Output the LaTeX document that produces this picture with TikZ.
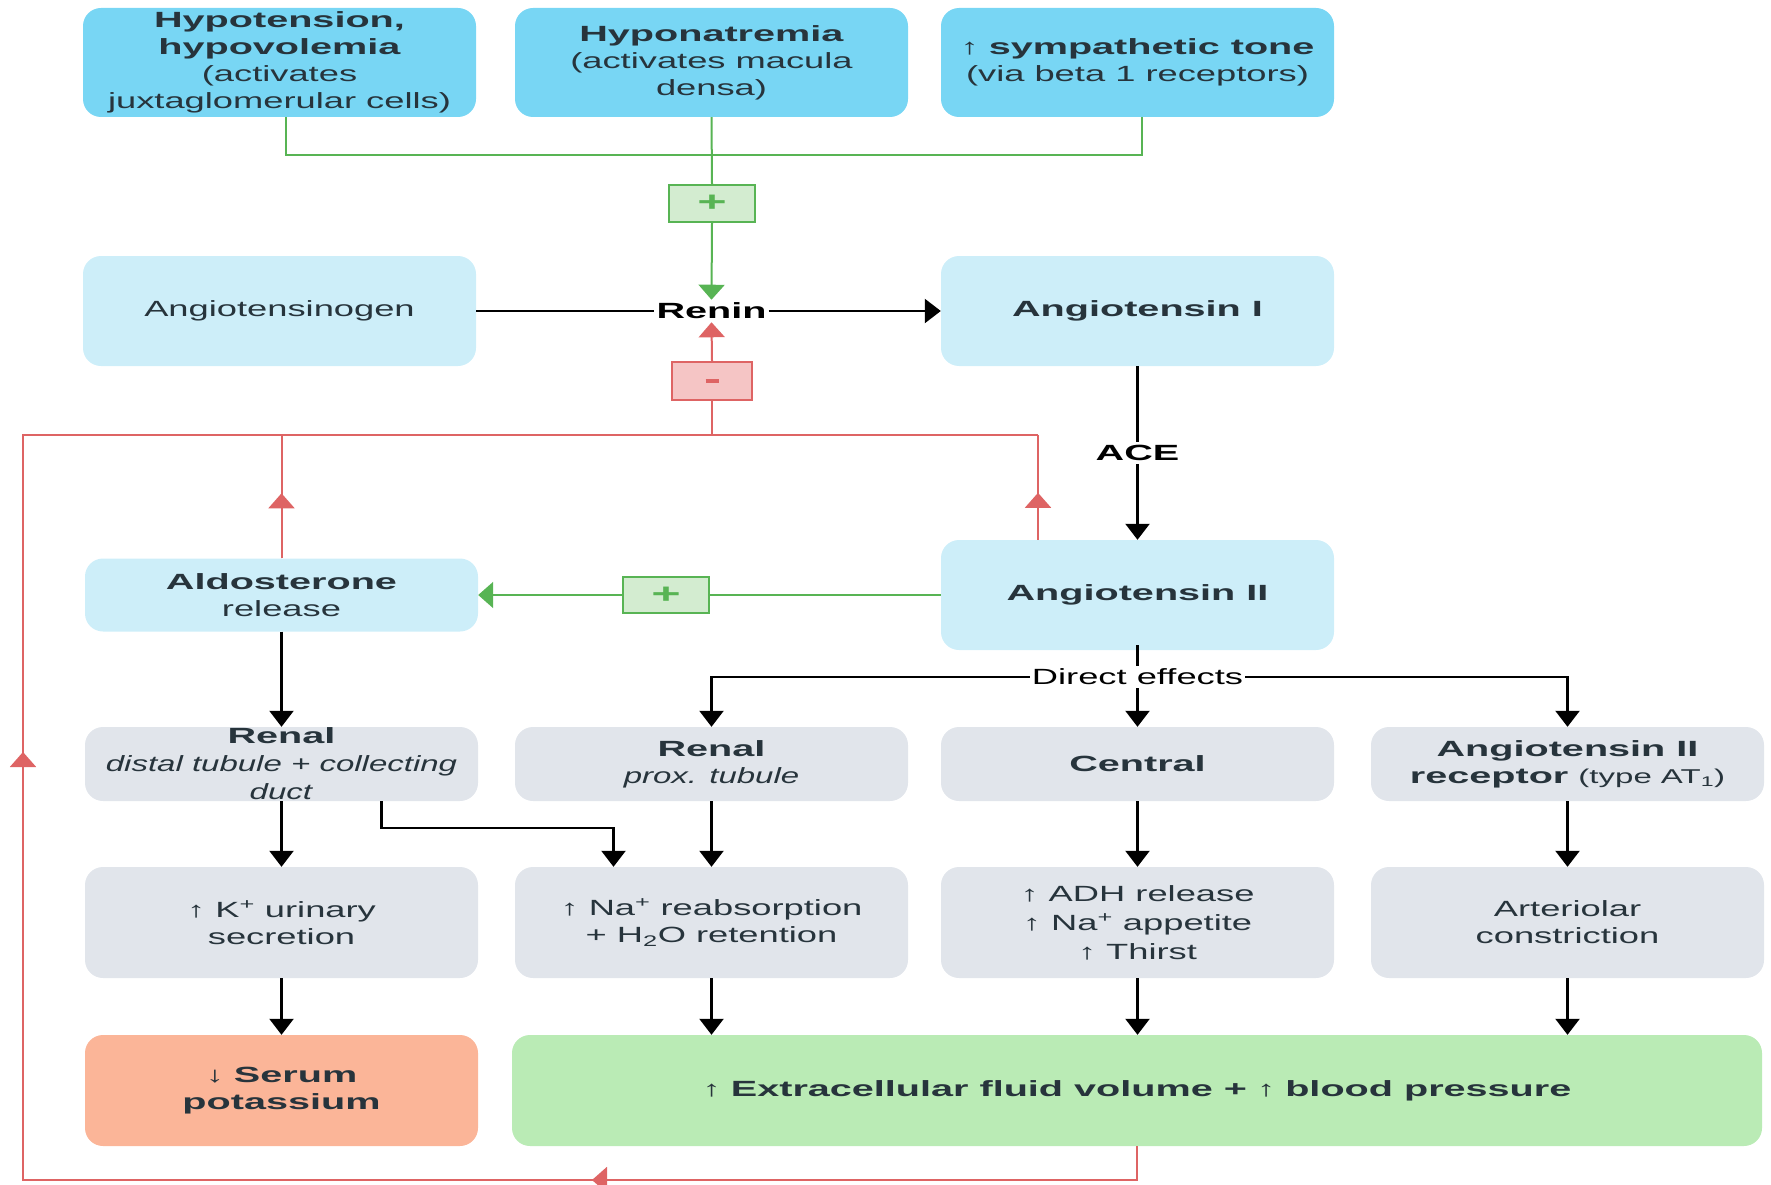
\documentclass[tikz,border=0pt]{standalone}
\usepackage{fontspec}
\setmainfont[FakeStretch=1.65, BoldFeatures={FakeStretch=1.8}, ItalicFeatures={FakeStretch=1.5}]{Liberation Sans}
\usetikzlibrary{arrows.meta}
\definecolor{topblue}{HTML}{78D6F4}
\definecolor{lblue}{HTML}{CDEEF9}
\definecolor{gbox}{HTML}{E1E5EB}
\definecolor{salmon}{HTML}{FBB598}
\definecolor{ecfgreen}{HTML}{BAEBB5}
\definecolor{txt}{HTML}{27343C}
\definecolor{gline}{HTML}{58B454}
\definecolor{gfill}{HTML}{D3ECD0}
\definecolor{rline}{HTML}{DE6464}
\definecolor{rfill}{HTML}{F5C5C5}
\begin{document}
\begin{tikzpicture}[x=1pt,y=-1pt,
  cbox/.style={rounded corners=18pt, minimum width=393pt, align=center, text=txt, inner sep=0pt, font=\fontsize{22}{27}\selectfont},
  topbox/.style={cbox, fill=topblue, minimum height=109pt},
  lbbox/.style={cbox, fill=lblue, minimum height=110pt},
  grbox/.style={cbox, fill=gbox, minimum height=74pt},
  effbox/.style={cbox, fill=gbox, minimum height=111pt},
  txtonly/.style={align=center, text=txt, inner sep=0pt, font=\fontsize{22}{28}\selectfont},
  lab/.style={fill=white, text=black, inner xsep=2pt, inner ysep=3pt, font=\fontsize{22}{27}\selectfont},
  blk/.style={draw=black, line width=2.3pt},
  barr/.style={blk, -{Triangle[width=24pt,length=16pt]}},
  gl/.style={draw=gline, line width=2pt},
  garr/.style={gl, -{Triangle[width=26pt,length=15pt]}},
  rl/.style={draw=rline, line width=2pt},
  rarr/.style={rl, -{Triangle[width=26pt,length=15pt]}},
  sign/.style={minimum width=86pt, minimum height=36pt, inner sep=0pt, line width=2pt, font=\fontsize{28}{28}\selectfont\bfseries},
  plusbox/.style={sign, draw=gline, fill=gfill, text=gline},
  minusbox/.style={sign, draw=rline, fill=rfill, text=rline, minimum width=80pt, minimum height=38pt}
]
\useasboundingbox (0,0) rectangle (1771,1185);

% top row
\node[topbox] (hypo) at (279.5,62.5) {\textbf{Hypotension,}\\\textbf{hypovolemia}\\(activates\\juxtaglomerular cells)};
\node[topbox] (hypon) at (711.5,62.5) {\textbf{Hyponatremia}\\(activates macula\\densa)};
\node[topbox] (symp) at (1137.5,62.5) {↑ \textbf{sympathetic tone}\\(via beta 1 receptors)};

% second row
\node[lbbox] (agen) at (279.5,311) {Angiotensinogen};
\node[lbbox] (ang1) at (1137.5,311) {\textbf{Angiotensin I}};
\node[lab, font=\fontsize{22}{27}\selectfont\bfseries] (renin) at (711.5,311) {Renin};

% signs
\node[plusbox] (plus1) at (712,203.5) {+};
\node[minusbox] (minus) at (712,381) {\rule{13pt}{4pt}};

% angiotensin II and aldosterone
\node[lbbox] (ang2) at (1137.5,595) {\textbf{Angiotensin II}};
\node[cbox, fill=lblue, minimum height=73pt] (aldo) at (281.5,595) {\textbf{Aldosterone}\\release};
\node[plusbox] (plus2) at (666,595) {+};
\node[lab, font=\fontsize{22}{27}\selectfont\bfseries] (ace) at (1137.5,453) {ACE};
\node[lab] (de) at (1137.5,677) {Direct effects};

% third row
\node[grbox] (rd) at (281.5,764) {};
\node[txtonly] (rdt) at (rd.center) {\textbf{Renal}\\\textit{distal tubule + collecting}\\\textit{duct}};
\node[grbox] (rp) at (711.5,764) {\textbf{Renal}\\\textit{prox. tubule}};
\node[grbox] (cen) at (1137.5,764) {\textbf{Central}};
\node[grbox] (at1) at (1567.5,764) {\textbf{Angiotensin II}\\\textbf{receptor} {\fontsize{20}{27}\selectfont(type AT\textsubscript{1})}};

% fourth row
\node[effbox] (kx) at (281.5,922.5) {↑ K\textsuperscript{+} urinary\\secretion};
\node[effbox] (na) at (711.5,922.5) {↑ Na\textsuperscript{+} reabsorption\\+ H\textsubscript{2}O retention};
\node[effbox, font=\fontsize{22}{29}\selectfont] (adh) at (1137.5,922.5) {↑ ADH release\\↑ Na\textsuperscript{+} appetite\\↑ Thirst};
\node[effbox] (art) at (1567.5,922.5) {Arteriolar\\constriction};

% fifth row
\node[cbox, fill=salmon, minimum height=111pt] (serum) at (281.5,1090.5) {↓ \textbf{Serum}\\\textbf{potassium}};
\node[cbox, fill=ecfgreen, minimum height=111pt, minimum width=1250pt] (ecf) at (1137,1090.5) {↑ \textbf{Extracellular fluid volume +} ↑ \textbf{blood pressure}};

% coordinates
\coordinate (gj) at (712,155);
\coordinate (rlft) at (23,435);
\coordinate (rrt) at (1038,435);
\coordinate (rbot) at (23,1180);

% green activation
\draw[gl] ([xshift=6pt]hypo.south) |- (gj) -| ([xshift=4pt]symp.south);
\draw[gl] (hypon.south) -- (plus1.north);
\draw[garr] (plus1.south) -- (renin.north);
\draw[gl] (ang2.west) -- (plus2.east);
\draw[garr] (plus2.west) -- (aldo.east);

% renin reaction
\draw[blk] (agen.east) -- (renin.west);
\draw[barr] (renin.east) -- (ang1.west);
\draw[blk] (ang1.south) -- (ace.north);
\draw[barr] (ace.south) -- (ang2.north);

% direct effects
\draw[blk] ([yshift=5pt]ang2.south) -- (de.north);
\draw[barr] (de.west) -| (rp.north);
\draw[barr] (de.east) -| (at1.north);
\draw[barr] (de.south) -- (cen.north);

% aldosterone path
\draw[barr] (aldo.south) -- (rd.north);
\draw[barr] (rd.south) -- (kx.north);
\draw[barr] ([xshift=100pt]rd.south) -- ++(0,27) -| ([xshift=-98pt]na.north);
\draw[barr] (rp.south) -- (na.north);
\draw[barr] (cen.south) -- (adh.north);
\draw[barr] (at1.south) -- (art.north);
\draw[barr] (kx.south) -- (serum.north);
\draw[barr] (na.south) -- (na.south |- ecf.north);
\draw[barr] (adh.south) -- (adh.south |- ecf.north);
\draw[barr] (art.south) -- (art.south |- ecf.north);

% red negative feedback
\draw[rl] (ecf.south) |- (rbot) -- (rlft) -- (rrt);
\draw[rl] (aldo.north) -- (aldo.north |- rlft);
\draw[rl] (rrt) -- (rrt |- ang2.north);
\draw[rl] (minus.south) -- (minus.south |- rlft);
\draw[rarr] (minus.north) -- (renin.south);
\draw[rarr] (23,790) -- (23,752);
\draw[rarr] (636,1180) -- (592,1180);
\draw[rarr] (aldo.north) -- ++(0,-65);
\draw[rarr] (rrt |- ang2.north) -- ++(0,-47);
\end{tikzpicture}
\end{document}
